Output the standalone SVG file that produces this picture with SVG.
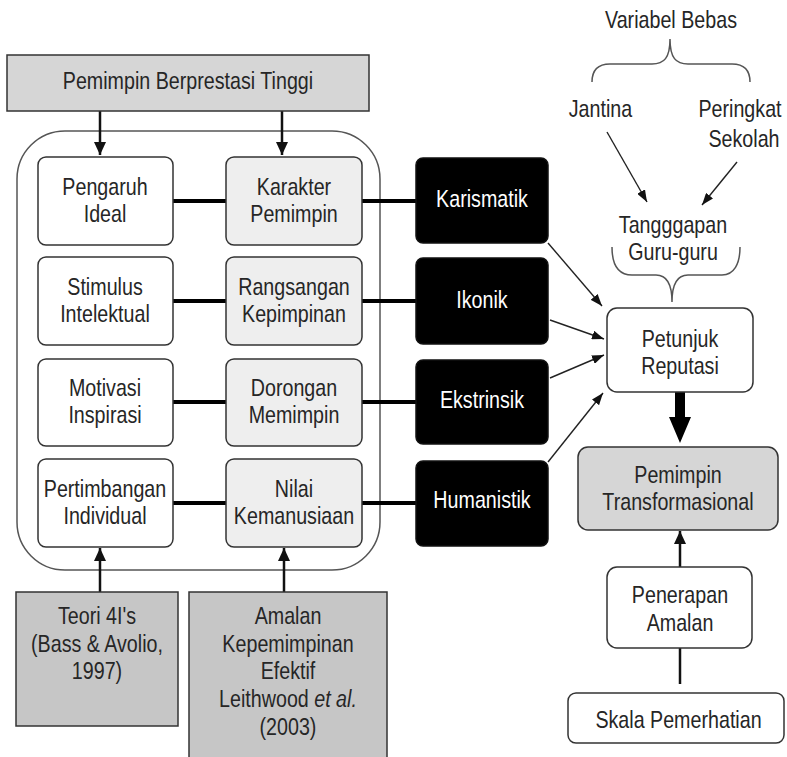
<svg xmlns="http://www.w3.org/2000/svg" width="787" height="757" viewBox="0 0 787 757">
<defs>
<style>
.t{font-family:"Liberation Sans",Arial,sans-serif;font-size:24px;fill:#262626;text-anchor:middle}
.w{fill:#ffffff}
.bw{fill:#ffffff;stroke:#333333;stroke-width:1.5}
.bl{fill:#eeeeee;stroke:#333333;stroke-width:1.5}
.bg{fill:#d6d6d6;stroke:#333333;stroke-width:1.5}
.bd{fill:#c6c6c6;stroke:#333333;stroke-width:1.5}
.bk{fill:#000000;stroke:#111111;stroke-width:1.5}
.thick{stroke:#000;stroke-width:4;fill:none}
.thin{stroke:#222;stroke-width:1.4;fill:none}
.med{stroke:#111;stroke-width:2.5;fill:none}
.brace{stroke:#555;stroke-width:1.5;fill:none}
</style>
<marker id="ah" viewBox="0 0 12 9" refX="12" refY="4.5" markerWidth="12" markerHeight="9" markerUnits="userSpaceOnUse" orient="auto"><path d="M0,0 L12,4.5 L0,9 z" fill="#111"/></marker>
<marker id="ahm" viewBox="0 0 13 12" refX="13" refY="6" markerWidth="13" markerHeight="12" markerUnits="userSpaceOnUse" orient="auto"><path d="M0,0 L13,6 L0,12 z" fill="#111"/></marker>
</defs>
<rect width="787" height="757" fill="#ffffff"/>

<g id="container"><rect x="17" y="131" width="363" height="439" rx="48" ry="48" fill="none" stroke="#555" stroke-width="1.5"/></g>

<g id="connectors">
<line class="thick" x1="173" y1="201" x2="226" y2="201"/>
<line class="thick" x1="362" y1="201" x2="416" y2="201"/>
<line class="thick" x1="173" y1="301" x2="226" y2="301"/>
<line class="thick" x1="362" y1="301" x2="416" y2="301"/>
<line class="thick" x1="173" y1="402" x2="226" y2="402"/>
<line class="thick" x1="362" y1="402" x2="416" y2="402"/>
<line class="thick" x1="173" y1="503" x2="226" y2="503"/>
<line class="thick" x1="362" y1="503" x2="416" y2="503"/>
<line class="med" x1="100" y1="111" x2="100" y2="155" marker-end="url(#ahm)"/>
<line class="med" x1="282" y1="111" x2="282" y2="155" marker-end="url(#ahm)"/>
<line class="med" x1="100" y1="592" x2="100" y2="548" marker-end="url(#ahm)"/>
<line class="med" x1="284" y1="592" x2="284" y2="548" marker-end="url(#ahm)"/>
<line class="thin" x1="548" y1="243" x2="602" y2="306" marker-end="url(#ah)"/>
<line class="thin" x1="550" y1="320" x2="604" y2="339" marker-end="url(#ah)"/>
<line class="thin" x1="550" y1="378" x2="604" y2="355" marker-end="url(#ah)"/>
<line class="thin" x1="548" y1="462" x2="603" y2="393" marker-end="url(#ah)"/>
<line class="thin" x1="607" y1="132" x2="647" y2="202" marker-end="url(#ah)"/>
<line class="thin" x1="737" y1="162" x2="702" y2="205" marker-end="url(#ah)"/>
<polygon points="675,392 685,392 685,417 691,417 680,443 669,417 675,417" fill="#000"/>
<line class="med" x1="680" y1="567" x2="680" y2="531" marker-end="url(#ahm)"/>
<line class="med" x1="680" y1="648" x2="680" y2="684"/>
<path class="brace" d="M592,82 C592,70 598,64 610,64 L652,64 C664,64 670,58 670,39 C670,58 676,64 688,64 L732,64 C744,64 750,70 750,82"/>
<path class="brace" d="M612,247 C612,264 618,275 632,275 L656,275 C666,275 672,282 672,302 C672,282 678,275 688,275 L722,275 C734,275 740,264 740,247"/>
</g>

<g id="top"><rect class="bg" x="7" y="55" width="362" height="56"/><text class="t" transform="scale(0.82,1)" x="229.27" y="89">Pemimpin Berprestasi Tinggi</text></g>

<g id="pengaruh"><rect class="bw" x="38" y="157" width="135" height="88" rx="8"/><g transform="scale(0.82,1)"><text class="t" x="128.05" y="195">Pengaruh</text><text class="t" x="128.05" y="222">Ideal</text></g></g>
<g id="stimulus"><rect class="bw" x="38" y="257" width="135" height="88" rx="8"/><g transform="scale(0.82,1)"><text class="t" x="128.05" y="295">Stimulus</text><text class="t" x="128.05" y="322">Intelektual</text></g></g>
<g id="motivasi"><rect class="bw" x="38" y="359" width="135" height="87" rx="8"/><g transform="scale(0.82,1)"><text class="t" x="128.05" y="396">Motivasi</text><text class="t" x="128.05" y="423">Inspirasi</text></g></g>
<g id="pertimbangan"><rect class="bw" x="38" y="459" width="135" height="88" rx="8"/><g transform="scale(0.82,1)"><text class="t" x="128.05" y="497">Pertimbangan</text><text class="t" x="128.05" y="524">Individual</text></g></g>

<g id="karakter"><rect class="bl" x="226" y="157" width="136" height="88" rx="8"/><g transform="scale(0.82,1)"><text class="t" x="358.54" y="195">Karakter</text><text class="t" x="358.54" y="222">Pemimpin</text></g></g>
<g id="rangsangan"><rect class="bl" x="226" y="257" width="136" height="88" rx="8"/><g transform="scale(0.82,1)"><text class="t" x="358.54" y="295">Rangsangan</text><text class="t" x="358.54" y="322">Kepimpinan</text></g></g>
<g id="dorongan"><rect class="bl" x="226" y="359" width="136" height="87" rx="8"/><g transform="scale(0.82,1)"><text class="t" x="358.54" y="396">Dorongan</text><text class="t" x="358.54" y="423">Memimpin</text></g></g>
<g id="nilai"><rect class="bl" x="226" y="459" width="136" height="88" rx="8"/><g transform="scale(0.82,1)"><text class="t" x="358.54" y="497">Nilai</text><text class="t" x="358.54" y="524">Kemanusiaan</text></g></g>

<g id="karismatik"><rect class="bk" x="416" y="158" width="132" height="85" rx="7"/><text class="t w" transform="scale(0.82,1)" x="587.80" y="207">Karismatik</text></g>
<g id="ikonik"><rect class="bk" x="416" y="258" width="132" height="86" rx="7"/><text class="t w" transform="scale(0.82,1)" x="587.80" y="308">Ikonik</text></g>
<g id="ekstrinsik"><rect class="bk" x="416" y="360" width="132" height="84" rx="7"/><text class="t w" transform="scale(0.82,1)" x="587.80" y="408">Ekstrinsik</text></g>
<g id="humanistik"><rect class="bk" x="416" y="461" width="132" height="85" rx="7"/><text class="t w" transform="scale(0.82,1)" x="587.80" y="508">Humanistik</text></g>

<g id="teori"><rect class="bd" x="16" y="592" width="162" height="134"/><g transform="scale(0.82,1)"><text class="t" x="118.29" y="624">Teori 4I's</text><text class="t" x="118.29" y="652">(Bass &amp; Avolio,</text><text class="t" x="118.29" y="679">1997)</text></g></g>
<g id="amalan"><rect class="bd" x="189" y="592" width="198" height="170"/><g transform="scale(0.82,1)"><text class="t" x="351.22" y="624">Amalan</text><text class="t" x="351.22" y="652">Kepemimpinan</text><text class="t" x="351.22" y="679">Efektif</text><text class="t" x="351.22" y="707">Leithwood <tspan font-style="italic">et al.</tspan></text><text class="t" x="351.22" y="735">(2003)</text></g></g>

<g id="variabel"><text class="t" transform="scale(0.82,1)" x="818.29" y="28">Variabel Bebas</text></g>
<g id="jantina"><text class="t" transform="scale(0.82,1)" x="732.32" y="117">Jantina</text></g>
<g id="peringkat"><g transform="scale(0.82,1)"><text class="t" x="902.44" y="117">Peringkat</text><text class="t" x="907.32" y="147">Sekolah</text></g></g>
<g id="tanggapan"><g transform="scale(0.82,1)"><text class="t" x="820.73" y="233">Tangggapan</text><text class="t" x="820.73" y="260">Guru-guru</text></g></g>

<g id="petunjuk"><rect class="bw" x="607" y="308" width="146" height="84" rx="10"/><g transform="scale(0.82,1)"><text class="t" x="829.27" y="347">Petunjuk</text><text class="t" x="829.27" y="374">Reputasi</text></g></g>
<g id="transformasional"><rect class="bg" x="578" y="447" width="200" height="83" rx="10"/><g transform="scale(0.82,1)"><text class="t" x="826.83" y="483">Pemimpin</text><text class="t" x="826.83" y="510">Transformasional</text></g></g>
<g id="penerapan"><rect class="bw" x="607" y="567" width="145" height="81" rx="10"/><g transform="scale(0.82,1)"><text class="t" x="829.27" y="603">Penerapan</text><text class="t" x="829.27" y="631">Amalan</text></g></g>
<g id="skala"><rect class="bw" x="568" y="693" width="216" height="50" rx="8"/><text class="t" transform="scale(0.82,1)" x="827.44" y="728">Skala Pemerhatian</text></g>
</svg>
